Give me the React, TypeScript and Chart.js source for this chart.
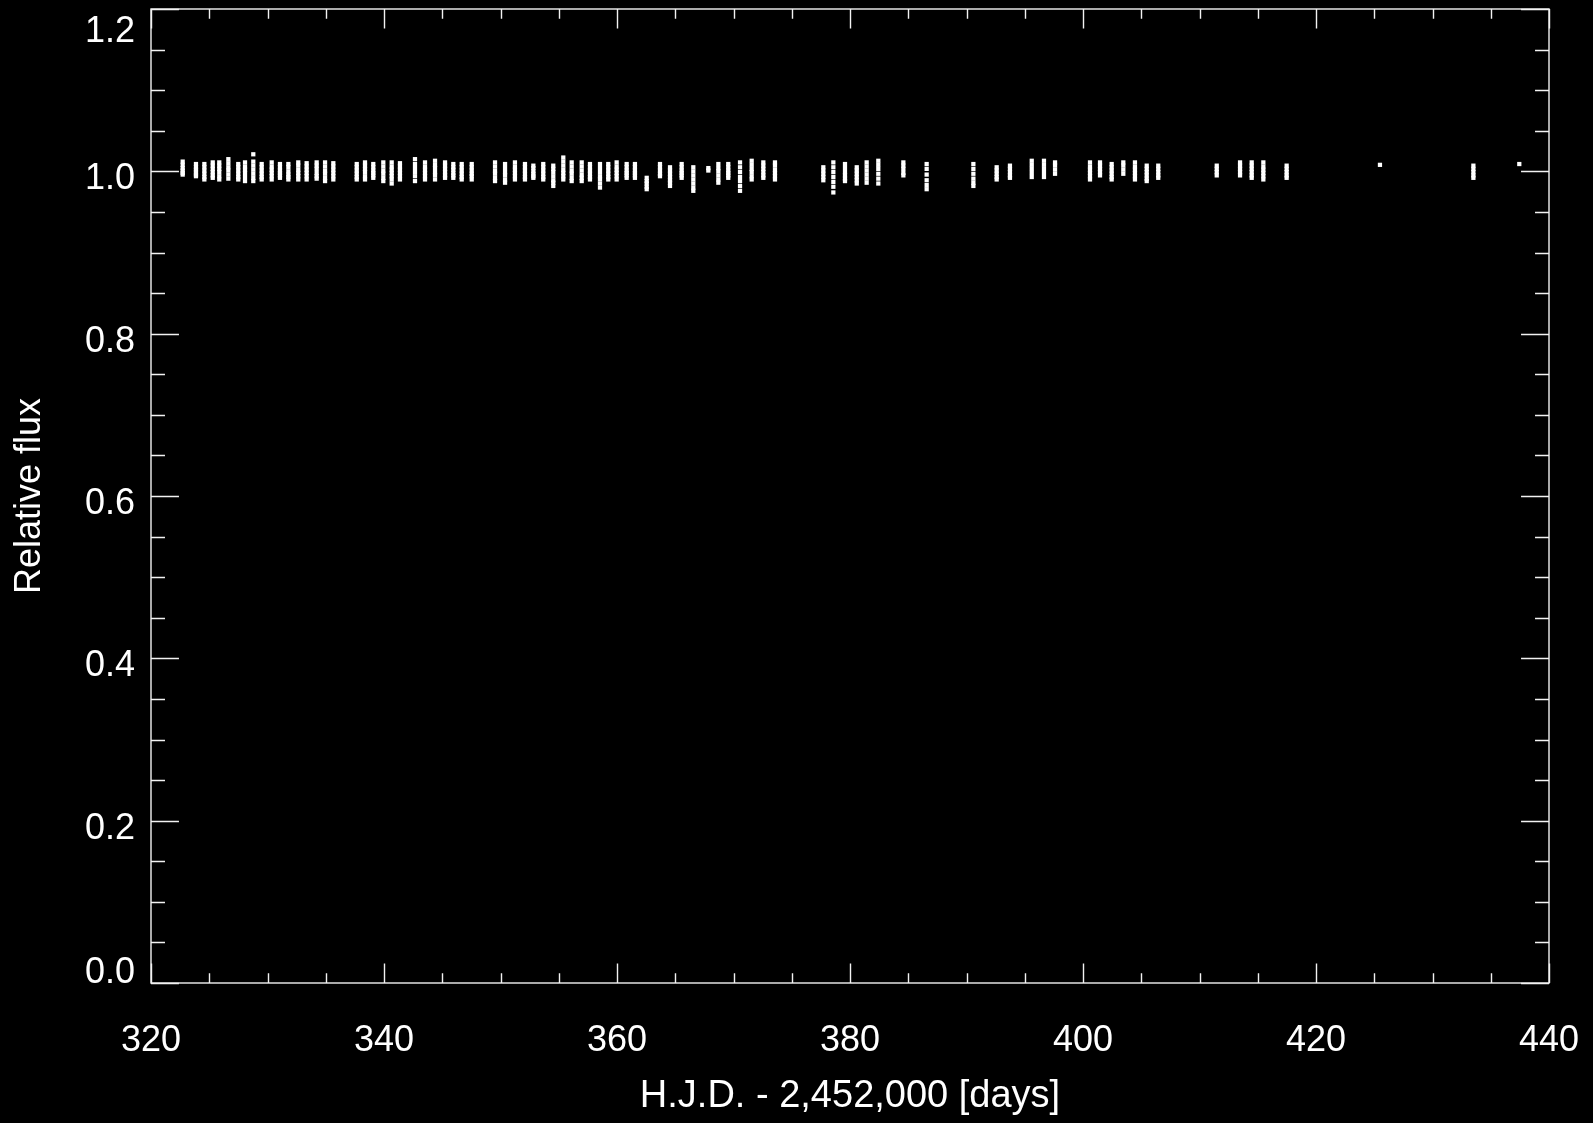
import React, { useEffect, useRef } from "react";
import { Chart, registerables } from "chart.js";

Chart.register(...registerables);

const FONT = '"Liberation Sans", Arial, Helvetica, sans-serif';

// Axis ticks / labels
const xMajorTicks = [320, 340, 360, 380, 400, 420, 440];
const xMinorStep = 5;
const yMajorTicks = [0.0, 0.2, 0.4, 0.6, 0.8, 1.0, 1.2];
const yMinorStep = 0.05;
const xTitle = "H.J.D. - 2,452,000 [days]";
const yTitle = "Relative flux";

// Observation nights (H.J.D. - 2,452,000)
const nightTimes = [
  322.72, 323.86, 324.58, 325.3, 325.86, 326.64, 327.49, 328.07, 328.78, 329.5,
  330.36, 331.07, 331.79, 332.64, 333.36, 334.22, 334.94, 335.65, 337.66, 338.37,
  339.08, 339.94, 340.66, 341.37, 342.66, 343.52, 344.38, 345.24, 345.95, 346.67,
  347.53, 349.53, 350.39, 351.24, 352.1, 352.82, 353.67, 354.53, 355.39, 356.11,
  356.97, 357.68, 358.54, 359.25, 359.97, 360.83, 361.54, 362.55, 363.69, 364.55,
  365.55, 366.55, 367.84, 368.7, 369.55, 370.56, 371.56, 372.56, 373.56, 377.71,
  378.57, 379.57, 380.58, 381.43, 382.43, 384.58, 386.58, 390.59, 392.59, 393.73,
  395.6, 396.65, 397.6, 400.6, 401.46, 402.46, 403.46, 404.46, 405.47, 406.46,
  411.48, 413.48, 414.48, 415.48, 417.48, 425.49, 433.51, 437.45,
];

// Relative flux measurements per night
const nightFlux = [
  [1.012, 1.008, 1.004, 1.001, 0.998, 0.996],
  [1.009, 1.005, 1.002, 0.999, 0.996, 0.994],
  [1.009, 1.005, 1.001, 0.997, 0.993, 0.99],
  [1.011, 1.007, 1.003, 0.999, 0.995, 0.992],
  [1.011, 1.007, 1.003, 0.999, 0.994, 0.99],
  [1.015, 1.01, 1.005, 1.001, 0.996, 0.991],
  [1.009, 1.005, 1.001, 0.997, 0.993, 0.99],
  [1.011, 1.006, 1.002, 0.998, 0.993, 0.988],
  [1.021, 1.012, 1.007, 1.002, 0.997, 0.992, 0.988],
  [1.009, 1.005, 1.001, 0.997, 0.993, 0.99],
  [1.011, 1.006, 1.002, 0.998, 0.994, 0.99],
  [1.009, 1.005, 1.001, 0.998, 0.995, 0.992],
  [1.009, 1.005, 1.0, 0.996, 0.993, 0.99],
  [1.011, 1.007, 1.002, 0.998, 0.994, 0.99],
  [1.01, 1.006, 1.002, 0.998, 0.994, 0.99],
  [1.011, 1.007, 1.003, 0.998, 0.994, 0.991],
  [1.011, 1.006, 1.001, 0.997, 0.992, 0.988],
  [1.01, 1.006, 1.002, 0.998, 0.994, 0.99],
  [1.009, 1.005, 1.001, 0.997, 0.993, 0.99],
  [1.011, 1.007, 1.003, 0.999, 0.994, 0.99],
  [1.009, 1.005, 1.001, 0.998, 0.995, 0.992],
  [1.011, 1.006, 1.001, 0.997, 0.992, 0.988],
  [1.011, 1.006, 1.002, 0.998, 0.994, 0.99, 0.985],
  [1.01, 1.006, 1.002, 0.998, 0.994, 0.99],
  [1.015, 1.009, 1.004, 0.999, 0.994, 0.988],
  [1.011, 1.006, 1.002, 0.998, 0.994, 0.99],
  [1.013, 1.008, 1.004, 0.999, 0.995, 0.99],
  [1.011, 1.007, 1.003, 0.999, 0.995, 0.992],
  [1.009, 1.005, 1.002, 0.998, 0.995, 0.992],
  [1.009, 1.005, 1.001, 0.997, 0.993, 0.99],
  [1.009, 1.005, 1.001, 0.997, 0.994, 0.99],
  [1.011, 1.006, 1.001, 0.997, 0.992, 0.988],
  [1.009, 1.004, 0.999, 0.995, 0.99, 0.986],
  [1.011, 1.006, 1.002, 0.998, 0.994, 0.99],
  [1.009, 1.005, 1.001, 0.997, 0.993, 0.99],
  [1.007, 1.004, 1.0, 0.997, 0.994, 0.992],
  [1.009, 1.005, 1.001, 0.997, 0.993, 0.99],
  [1.007, 1.003, 0.999, 0.994, 0.989, 0.986, 0.982],
  [1.017, 1.012, 1.007, 1.002, 0.998, 0.994, 0.99],
  [1.011, 1.006, 1.001, 0.997, 0.992, 0.988],
  [1.011, 1.006, 1.001, 0.996, 0.992, 0.988],
  [1.009, 1.005, 1.001, 0.997, 0.993, 0.99],
  [1.009, 1.004, 0.999, 0.994, 0.99, 0.985, 0.98],
  [1.009, 1.005, 1.001, 0.997, 0.993, 0.99],
  [1.011, 1.006, 1.002, 0.998, 0.994, 0.99],
  [1.009, 1.005, 1.001, 0.998, 0.995, 0.992],
  [1.009, 1.005, 1.001, 0.998, 0.995, 0.992],
  [0.992, 0.988, 0.985, 0.981, 0.978],
  [1.009, 1.005, 1.001, 0.997, 0.994],
  [1.005, 1.001, 0.997, 0.993, 0.989, 0.986, 0.982],
  [1.009, 1.005, 1.001, 0.998, 0.995, 0.992],
  [1.005, 1.0, 0.995, 0.99, 0.985, 0.98, 0.976],
  [1.004, 1.001],
  [1.009, 1.004, 1.0, 0.995, 0.99, 0.986],
  [1.009, 1.005, 1.001, 0.998, 0.995, 0.992],
  [1.011, 1.005, 0.999, 0.993, 0.988, 0.982, 0.976],
  [1.013, 1.008, 1.003, 0.999, 0.994, 0.99],
  [1.011, 1.007, 1.003, 0.999, 0.995, 0.992],
  [1.011, 1.007, 1.002, 0.998, 0.994, 0.99],
  [1.005, 1.001, 0.997, 0.993, 0.989],
  [1.011, 1.005, 0.999, 0.993, 0.987, 0.981, 0.974],
  [1.009, 1.004, 0.999, 0.995, 0.991, 0.988],
  [1.005, 1.001, 0.997, 0.993, 0.989, 0.985],
  [1.011, 1.006, 1.001, 0.996, 0.991, 0.986],
  [1.013, 1.008, 1.003, 0.997, 0.991, 0.985],
  [1.011, 1.007, 1.003, 0.998, 0.995],
  [1.009, 1.003, 0.996, 0.989, 0.983, 0.978],
  [1.009, 1.003, 0.997, 0.991, 0.986, 0.982],
  [1.005, 1.001, 0.997, 0.993, 0.99],
  [1.007, 1.003, 0.999, 0.995, 0.992],
  [1.013, 1.008, 1.003, 0.998, 0.993],
  [1.013, 1.008, 1.003, 0.998, 0.993],
  [1.011, 1.007, 1.002, 0.997],
  [1.011, 1.006, 1.002, 0.998, 0.994, 0.99],
  [1.011, 1.007, 1.003, 0.999, 0.995],
  [1.009, 1.005, 1.001, 0.997, 0.993, 0.99],
  [1.011, 1.007, 1.002, 0.997],
  [1.011, 1.006, 1.002, 0.998, 0.994, 0.99],
  [1.007, 1.003, 0.999, 0.995, 0.991, 0.988],
  [1.007, 1.003, 0.999, 0.995, 0.992],
  [1.007, 1.003, 0.999, 0.995],
  [1.011, 1.007, 1.003, 0.999, 0.995],
  [1.011, 1.007, 1.003, 0.999, 0.995, 0.992],
  [1.011, 1.006, 1.002, 0.998, 0.994, 0.99],
  [1.007, 1.003, 0.999, 0.995, 0.992],
  [1.008],
  [1.007, 1.003, 0.999, 0.995, 0.992],
  [1.009],
];

const W = 1593;
const H = 1123;

const framePlugin = {
  id: "idlFrame",
  afterDraw(chart: any) {
    const { ctx, chartArea } = chart;
    const { left, right, top, bottom } = chartArea;
    const xs = chart.scales.x;
    const ys = chart.scales.y;
    const plotW = right - left;
    const plotH = bottom - top;
    const xMajLen = 0.02 * plotH;
    const yMajLen = 0.02 * plotW;

    ctx.save();
    ctx.strokeStyle = "#f2f2f2";
    ctx.lineWidth = 1.4;
    ctx.strokeRect(left, top, plotW, plotH);

    ctx.beginPath();
    const xMin = xMajorTicks[0];
    const xMax = xMajorTicks[xMajorTicks.length - 1];
    for (let v = xMin; v <= xMax + 1e-9; v += xMinorStep) {
      const px = Math.round(xs.getPixelForValue(v)) + 0.5;
      const major = xMajorTicks.some((m) => Math.abs(m - v) < 1e-6);
      const len = major ? xMajLen : xMajLen / 2;
      ctx.moveTo(px, bottom);
      ctx.lineTo(px, bottom - len);
      ctx.moveTo(px, top);
      ctx.lineTo(px, top + len);
    }
    const yMin = yMajorTicks[0];
    const yMax = yMajorTicks[yMajorTicks.length - 1];
    for (let i = 0; yMin + i * yMinorStep <= yMax + 1e-9; i++) {
      const v = yMin + i * yMinorStep;
      const py = Math.round(ys.getPixelForValue(v)) + 0.5;
      const major = yMajorTicks.some((m) => Math.abs(m - v) < 1e-6);
      const len = major ? yMajLen : yMajLen / 2;
      ctx.moveTo(left, py);
      ctx.lineTo(left + len, py);
      ctx.moveTo(right, py);
      ctx.lineTo(right - len, py);
    }
    ctx.stroke();

    // tick labels
    ctx.fillStyle = "#ffffff";
    ctx.font = `36px ${FONT}`;
    ctx.textBaseline = "alphabetic";
    ctx.textAlign = "center";
    for (const v of xMajorTicks) {
      ctx.fillText(String(v), xs.getPixelForValue(v), 1051);
    }
    ctx.textAlign = "right";
    yMajorTicks.forEach((v, i) => {
      let base = ys.getPixelForValue(v) + 18;
      if (i === 0) base = bottom;
      if (i === yMajorTicks.length - 1) base = top + 33;
      ctx.fillText(v.toFixed(1), left - 16, base);
    });

    // axis titles
    ctx.textAlign = "center";
    ctx.textBaseline = "middle";
    ctx.font = `38px ${FONT}`;
    ctx.fillText(xTitle, (left + right) / 2, 1097);
    ctx.font = `36px ${FONT}`;
    ctx.save();
    ctx.translate(30, (top + bottom) / 2);
    ctx.rotate(-Math.PI / 2);
    ctx.fillText(yTitle, 0, 0);
    ctx.restore();
    ctx.restore();
  },
};

export default function App() {
  const ref = useRef<HTMLCanvasElement | null>(null);

  useEffect(() => {
    document.body.style.margin = "0";
    document.body.style.background = "#000";
    const canvas = ref.current;
    if (!canvas) return;
    const points = nightTimes.flatMap((t, i) =>
      nightFlux[i].map((f) => ({ x: t, y: f }))
    );
    const chart = new Chart(canvas, {
      type: "scatter",
      data: {
        datasets: [
          {
            data: points,
            pointStyle: "rect",
            pointRadius: 3,
            pointHoverRadius: 3,
            pointBackgroundColor: "#ffffff",
            pointBorderWidth: 0,
            showLine: false,
          },
        ],
      },
      options: {
        animation: false,
        responsive: false,
        devicePixelRatio: 1,
        events: [],
        layout: { padding: { top: 9, right: 44, left: 0, bottom: 0 } },
        plugins: {
          legend: { display: false },
          tooltip: { enabled: false },
          title: { display: false },
        },
        scales: {
          x: {
            type: "linear",
            min: xMajorTicks[0],
            max: xMajorTicks[xMajorTicks.length - 1],
            grid: { display: false },
            border: { display: false },
            ticks: { display: false },
            afterFit: (s: any) => {
              s.height = 140;
              s.paddingLeft = 0;
              s.paddingRight = 0;
            },
          },
          y: {
            type: "linear",
            min: yMajorTicks[0],
            max: yMajorTicks[yMajorTicks.length - 1],
            grid: { display: false },
            border: { display: false },
            ticks: { display: false },
            afterFit: (s: any) => {
              s.width = 151;
              s.paddingTop = 0;
              s.paddingBottom = 0;
            },
          },
        },
      },
      plugins: [framePlugin],
    });
    return () => chart.destroy();
  }, []);

  return (
    <div
      style={{
        position: "fixed",
        left: 0,
        top: 0,
        width: W,
        height: H,
        background: "#000",
      }}
    >
      <canvas ref={ref} width={W} height={H} style={{ width: W, height: H, display: "block" }} />
    </div>
  );
}
